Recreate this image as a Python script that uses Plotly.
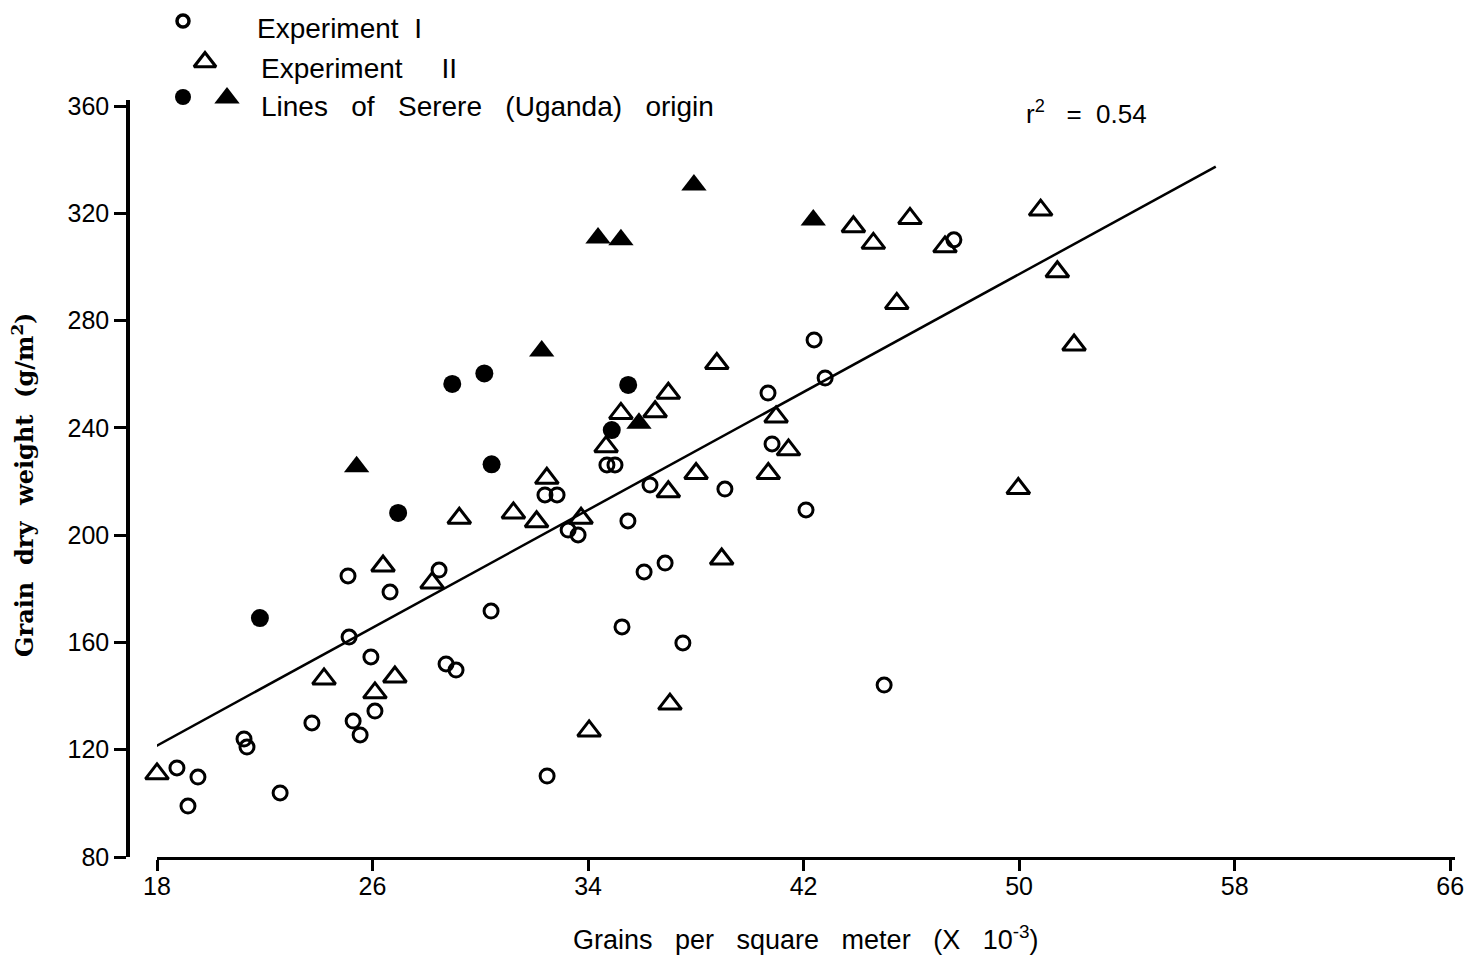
import plotly.graph_objects as go

# ---- data ----
exp1_x = [18.74, 19.15, 19.52, 21.23, 21.34, 22.57, 23.75, 25.09, 25.13, 25.28, 25.54, 25.94, 26.09,
          26.65, 28.47, 28.73, 29.10, 30.40, 32.48, 32.40, 32.85, 33.26, 33.63, 34.70, 35.00, 35.26,
          35.48, 36.08, 36.30, 36.86, 37.52, 39.08, 40.68, 40.83, 42.09, 42.39, 42.80, 44.99, 47.58]
exp1_y = [113.2, 99.0, 109.8, 124.0, 121.0, 103.9, 130.0, 184.8, 162.0, 130.7, 125.5, 154.6, 134.4,
          178.8, 187.0, 152.0, 149.7, 171.7, 110.2, 215.0, 215.0, 201.9, 200.1, 226.2, 226.2, 165.8,
          205.3, 186.3, 218.7, 189.6, 159.8, 217.2, 253.0, 234.0, 209.4, 272.8, 258.6, 144.1, 310.1]

exp2_x = [18.0, 24.20, 26.09, 26.39, 26.83, 28.21, 29.22, 31.23, 32.09, 32.47, 33.74, 34.67, 35.22,
          36.49, 36.98, 38.01, 36.98, 34.04, 37.04, 38.78, 38.96, 40.69, 40.98, 41.44, 43.85, 44.59,
          45.95, 47.25, 45.46, 50.80, 51.42, 52.04, 49.97]
exp2_y = [111.0, 146.4, 141.2, 188.5, 147.1, 182.2, 206.3, 208.3, 205.0, 221.2, 206.3, 233.0, 245.4,
          246.0, 252.9, 223.0, 216.2, 127.0, 137.0, 264.0, 191.1, 223.0, 244.1, 231.8, 315.0, 308.8,
          318.1, 307.5, 286.4, 321.2, 298.2, 270.9, 217.4]

serere_circ_x = [21.82, 26.95, 28.96, 30.15, 30.42, 35.49, 34.88]
serere_circ_y = [169.1, 208.3, 256.4, 260.3, 226.4, 256.0, 239.2]

serere_tri_x = [25.41, 32.28, 34.37, 35.22, 37.93, 42.36, 35.89]
serere_tri_y = [225.5, 268.7, 310.8, 310.1, 330.6, 317.5, 241.7]

fit_line_x = [17.9, 57.3]
fit_line_y = [121.0, 337.4]

x_ticks = [18, 26, 34, 42, 50, 58, 66]
y_ticks = [80, 120, 160, 200, 240, 280, 320, 360]

legend_labels = ["Experiment  I", "Experiment     II", "Lines   of   Serere   (Uganda)   origin"]
r2_label = "r<sup>2</sup>   =  0.54"
x_title = "Grains   per   square   meter   (X   10<sup>-3</sup>)"
y_title = "Grain  dry  weight  (g/m<sup>2</sup>)"

# ---- figure (margins 0; overlay axis x2/y2 works in page pixels) ----
W, H = 1483, 957
X_LEFT, X_RIGHT = 157, 1455     # x-axis line extent (px)
Y_TOP, Y_BOT = 100, 857         # y-axis extent (px)
Y_AXIS_X = 128                  # y-axis line position (px)
FONT = "Liberation Sans, Arial, sans-serif"

fig = go.Figure()

fig.add_trace(go.Scatter(x=fit_line_x, y=fit_line_y, mode="lines", cliponaxis=False,
                         line=dict(color="black", width=2.5), showlegend=False, hoverinfo="skip"))
fig.add_trace(go.Scatter(x=exp1_x, y=exp1_y, mode="markers", name=legend_labels[0], cliponaxis=False,
                         marker=dict(symbol="circle-open", size=14, color="black",
                                     line=dict(width=3, color="black")), showlegend=False))
fig.add_trace(go.Scatter(x=exp2_x, y=exp2_y, mode="markers", name=legend_labels[1], cliponaxis=False,
                         marker=dict(symbol="triangle-up-open", size=20, color="black",
                                     line=dict(width=3, color="black")), showlegend=False))
fig.add_trace(go.Scatter(x=serere_circ_x, y=serere_circ_y, mode="markers", name=legend_labels[2],
                         cliponaxis=False,
                         marker=dict(symbol="circle", size=18, color="black"), showlegend=False))
fig.add_trace(go.Scatter(x=serere_tri_x, y=serere_tri_y, mode="markers", name=legend_labels[2],
                         cliponaxis=False,
                         marker=dict(symbol="triangle-up", size=22, color="black"), showlegend=False))

# legend glyphs on the pixel-space overlay axis
fig.add_trace(go.Scatter(x=[183], y=[21], xaxis="x2", yaxis="y2", mode="markers", cliponaxis=False,
                         marker=dict(symbol="circle-open", size=12, color="black",
                                     line=dict(width=3.5, color="black")), showlegend=False, hoverinfo="skip"))
fig.add_trace(go.Scatter(x=[205], y=[62], xaxis="x2", yaxis="y2", mode="markers", cliponaxis=False,
                         marker=dict(symbol="triangle-up-open", size=19, color="black",
                                     line=dict(width=3.2, color="black")), showlegend=False, hoverinfo="skip"))
fig.add_trace(go.Scatter(x=[183], y=[97], xaxis="x2", yaxis="y2", mode="markers", cliponaxis=False,
                         marker=dict(symbol="circle", size=16, color="black"), showlegend=False, hoverinfo="skip"))
fig.add_trace(go.Scatter(x=[227], y=[98], xaxis="x2", yaxis="y2", mode="markers", cliponaxis=False,
                         marker=dict(symbol="triangle-up", size=22, color="black"), showlegend=False, hoverinfo="skip"))

ann_font = dict(family=FONT, size=28, color="black")
annotations = [
    dict(x=255, y=28, xref="x2", yref="y2", text=legend_labels[0], showarrow=False,
         xanchor="left", yanchor="middle", font=ann_font),
    dict(x=259, y=68, xref="x2", yref="y2", text=legend_labels[1], showarrow=False,
         xanchor="left", yanchor="middle", font=ann_font),
    dict(x=259, y=106, xref="x2", yref="y2", text=legend_labels[2], showarrow=False,
         xanchor="left", yanchor="middle", font=ann_font),
    dict(x=1024, y=112, xref="x2", yref="y2", text=r2_label, showarrow=False,
         xanchor="left", yanchor="middle", font=dict(family=FONT, size=26, color="black")),
    dict(x=23, y=485, xref="x2", yref="y2", text=y_title, showarrow=False, textangle=-90,
         xanchor="center", yanchor="middle",
         font=dict(family="DejaVu Serif, serif", size=24, color="black", weight="bold")),
    dict(x=805, y=938, xref="x2", yref="y2", text=x_title, showarrow=False,
         xanchor="center", yanchor="middle", font=dict(family=FONT, size=27, color="black")),
]

fig.update_layout(
    width=W, height=H,
    margin=dict(l=0, r=0, t=0, b=0, autoexpand=False),
    paper_bgcolor="white", plot_bgcolor="rgba(0,0,0,0)",
    font=dict(family=FONT, size=24, color="black"),
    showlegend=False,
    annotations=annotations,
    xaxis=dict(domain=[X_LEFT / W, X_RIGHT / W], range=[18, 66.18], tickvals=x_ticks, anchor="y",
               showline=True, linewidth=3, linecolor="black", mirror=False,
               ticks="outside", ticklen=11, tickwidth=2.5, tickcolor="black",
               ticklabelstandoff=-6,
               showgrid=False, zeroline=False, tickfont=dict(size=25), automargin=False),
    yaxis=dict(domain=[(H - Y_BOT) / H, (H - Y_TOP) / H], range=[80, 362.25], tickvals=y_ticks,
               anchor="free", position=Y_AXIS_X / W,
               showline=True, linewidth=3.5, linecolor="black",
               ticks="outside", ticklen=12, tickwidth=2.5, tickcolor="black",
               showgrid=False, zeroline=False, tickfont=dict(size=25), automargin=False),
    xaxis2=dict(domain=[0, 1], range=[0, W], anchor="y2", visible=False, fixedrange=True),
    yaxis2=dict(domain=[0, 1], range=[H, 0], anchor="x2", visible=False, fixedrange=True),
)

fig.write_html("out.html")
